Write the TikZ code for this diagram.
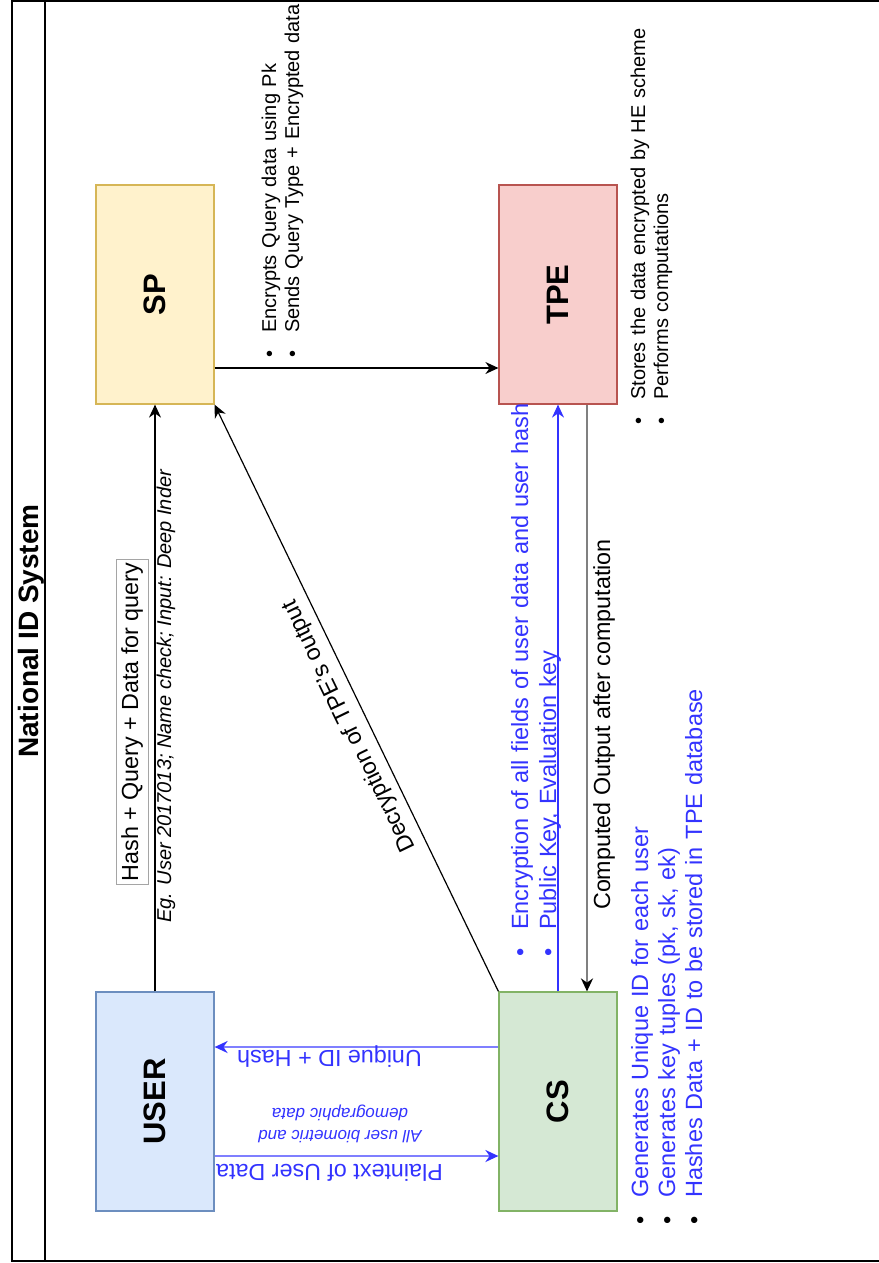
\documentclass[tikz,border=0pt]{standalone}
\usepackage{fontspec}
\setmainfont{Liberation Sans}
\usepackage{graphicx}
\usepackage{xcolor}
\usepackage{tikz}
\usetikzlibrary{arrows.meta}

\definecolor{spfill}{HTML}{FFF2CC}
\definecolor{spdraw}{HTML}{D6B656}
\definecolor{tpefill}{HTML}{F8CECC}
\definecolor{tpedraw}{HTML}{B85450}
\definecolor{userfill}{HTML}{DAE8FC}
\definecolor{userdraw}{HTML}{6C8EBF}
\definecolor{csfill}{HTML}{D5E8D4}
\definecolor{csdraw}{HTML}{82B366}
\definecolor{bluetxt}{RGB}{51,51,255}
\definecolor{bluelt}{RGB}{127,127,255}
\definecolor{linegray}{RGB}{128,128,128}
\definecolor{lblgray}{RGB}{165,165,165}

\newcommand{\blt}[1][black]{\leavevmode\llap{\textcolor{#1}{\textbullet}\hspace{18pt}}}

\tikzset{
  pool/.style={line width=1.5pt},
  title/.style={rotate=90, anchor=base, font=\bfseries\fontsize{28}{34}\selectfont},
  box/.style={line width=1.2pt, minimum width=118pt, minimum height=219pt, inner sep=0pt, font=\bfseries\fontsize{31}{36}\selectfont},
  arr/.style={line width=1.2pt, -{Stealth[length=13pt, width=12pt]}},
  lbl/.style={inner sep=0pt, font=\fontsize{23.3}{28}\selectfont},
  notes/.style={rotate=90, anchor=base west, inner sep=0pt, text width=560pt, align=left},
}

\begin{document}
\begin{tikzpicture}[x=1pt, y=-1pt]
	\useasboundingbox (0,0) rectangle (878,1263);
	% Pool and title band:
	\draw[pool] (12,1) rectangle (900,1261);
	\draw[pool] (45,1) -- (45,1261);
	\node[title](T) at (38,631){National ID System};
	% Entities:
	\node[box, fill=spfill, draw=spdraw](SP) at (155,294.5){\rotatebox{90}{SP}};
	\node[box, fill=tpefill, draw=tpedraw](TPE) at (558,294.5){\rotatebox{90}{TPE}};
	\node[box, fill=userfill, draw=userdraw](USER) at (155,1101.5){\rotatebox{90}{USER}};
	\node[box, fill=csfill, draw=csdraw](CS) at (558,1101.5){\rotatebox{90}{CS}};
	% Connectors:
	\draw[arr] (USER.north) -- (SP.south);
	\draw[arr] ([yshift=-73.5pt]SP.east) -- ([yshift=-73.5pt]TPE.west);
	\draw[arr] (CS.north west) -- node[pos=0.466, rotate=115.86, anchor=south, lbl, inner sep=7pt](DEC){Decryption of TPE's output} (SP.south east);
	\draw[arr, draw=linegray, line width=2pt, -{Stealth[length=13pt, width=12pt, color=black]}] ([xshift=29pt]TPE.south) -- ([xshift=29pt]CS.north);
	\draw[arr, draw=bluetxt, -{Stealth[length=13pt, width=12pt, color=bluetxt]}] (CS.north) -- (TPE.south);
	\draw[arr, draw=bluelt, line width=2pt, -{Stealth[length=13pt, width=12pt, color=bluetxt]}] ([yshift=54.5pt]CS.west) -- ([yshift=54.5pt]USER.east);
	\draw[arr, draw=bluelt, line width=2pt, -{Stealth[length=13pt, width=12pt, color=bluetxt]}] ([yshift=-54.5pt]USER.east) -- ([yshift=-54.5pt]CS.west);
	% Edge labels:
	\node[lbl, rotate=90, draw=lblgray, line width=0.8pt, inner xsep=3pt, minimum height=32pt](HQ) at (132,722){Hash + Query + Data for query};
	\node[rotate=90, anchor=base west, inner sep=0pt, font=\itshape\fontsize{20}{24}\selectfont](EG) at (171,923){Eg. User 2017013; Name check; Input: Deep Inder};
	\node[lbl, rotate=90, anchor=base west](CO) at (610,910){Computed Output after computation};
	\node[lbl, rotate=180, anchor=base west, text=bluetxt](UH) at (422,1050){Unique ID + Hash};
	\node[lbl, rotate=180, anchor=base west, text=bluetxt](PT) at (443,1164){Plaintext of User Data};
	\node[rotate=180, align=center, inner sep=0pt, text=bluetxt, font=\itshape\fontsize{17}{22}\selectfont](BIO) at (340,1124){All user biometric and\\demographic data};
	% Notes:
	\node[notes, font=\fontsize{20}{23}\selectfont](SPN) at (276,333){\blt Encrypts Query data using Pk\\ \blt Sends Query Type + Encrypted data};
	\node[notes, font=\fontsize{20}{23}\selectfont](TPEN) at (645,400){\blt Stores the data encrypted by HE scheme\\ \blt Performs computations};
	\node[notes, text=bluetxt, font=\fontsize{23.5}{28}\selectfont](ENC) at (528,930){\blt[bluetxt]Encryption of all fields of user data and user hash\\ \blt[bluetxt]Public Key, Evaluation key};
	\node[notes, text=bluetxt, font=\fontsize{23.5}{27}\selectfont](CSN) at (648,1198){\blt Generates Unique ID for each user\\ \blt Generates key tuples (pk, sk, ek)\\ \blt Hashes Data + ID to be stored in TPE database};
\end{tikzpicture}
\end{document}
